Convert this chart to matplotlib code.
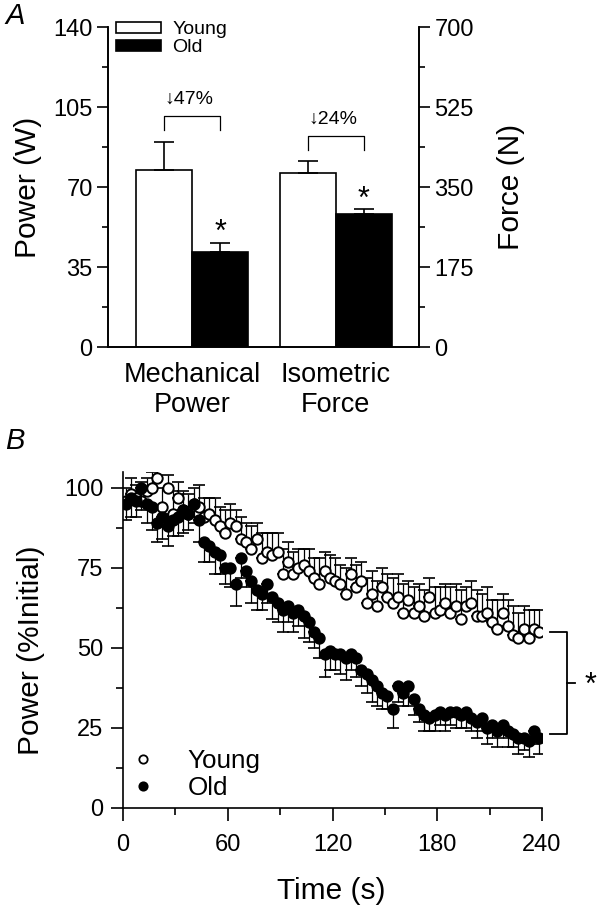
import numpy as np
import matplotlib
matplotlib.use("Agg")
import matplotlib.pyplot as plt
from matplotlib.ticker import MultipleLocator
from matplotlib.lines import Line2D

plt.rcParams['font.family'] = ['Liberation Sans', 'DejaVu Sans']

# ---- Panel A data ----
groups = ['Mechanical\nPower', 'Isometric\nForce']
power_young, power_young_err = 77.4, 12.3
power_old, power_old_err = 41.6, 3.9
force_young, force_young_err = 380.6, 26.0
force_old, force_old_err = 291.0, 11.0
drops = ['47%', '24%']

# ---- Panel B data ----
time_s = np.arange(1.5, 240, 3)
young = [96, 98, 97, 96, 99, 100, 103, 94, 100, 92,
         97, 93, 92, 95, 94, 91, 92, 90, 88, 86,
         89, 88, 84, 83, 81, 84, 78, 80, 79, 80,
         73, 77, 73, 75, 76, 74, 72, 70, 74, 72,
         71, 70, 67, 73, 69, 71, 64, 67, 63, 69,
         66, 64, 66, 61, 65, 61, 63, 60, 66, 61,
         62, 64, 61, 63, 59, 63, 64, 60, 60, 61,
         58, 56, 61, 57, 54, 53, 56, 53, 56, 55]
young_err = [4, 5, 4, 6, 4, 5, 3, 6, 4, 7,
             5, 6, 6, 5, 7, 6, 5, 7, 6, 7,
             6, 5, 7, 6, 7, 5, 8, 6, 7, 6,
             8, 6, 7, 6, 5, 7, 6, 8, 6, 7,
             7, 6, 8, 5, 7, 6, 8, 7, 8, 6,
             7, 8, 7, 9, 6, 8, 7, 8, 6, 8,
             7, 6, 8, 7, 9, 6, 7, 8, 7, 8,
             7, 9, 6, 8, 9, 8, 7, 9, 6, 7]
old = [95, 97, 96, 100, 95, 94, 89, 91, 88, 90,
       91, 93, 92, 95, 90, 83, 82, 80, 79, 75,
       75, 70, 78, 74, 71, 68, 67, 70, 66, 64,
       62, 63, 61, 62, 60, 58, 55, 53, 48, 49,
       48, 48, 47, 48, 47, 43, 42, 40, 38, 36,
       35, 31, 38, 36, 38, 34, 31, 29, 28, 29,
       30, 29, 30, 30, 29, 30, 28, 27, 28, 25,
       26, 24, 26, 24, 23, 22, 22, 21, 24, 22]
old_err = [5, 6, 5, 7, 6, 7, 6, 7, 6, 5,
           6, 7, 5, 6, 7, 6, 5, 7, 6, 5,
           6, 7, 6, 5, 7, 6, 5, 6, 7, 6,
           7, 5, 6, 5, 7, 6, 5, 6, 7, 6,
           5, 6, 7, 5, 6, 5, 6, 7, 6, 5,
           4, 6, 5, 4, 6, 5, 4, 5, 4, 5,
           4, 5, 4, 5, 4, 5, 4, 5, 4, 5,
           4, 5, 4, 5, 4, 5, 4, 5, 4, 5]

fig = plt.figure(figsize=(6, 9.09), dpi=100)
W, H = 600, 909

# ================= Panel A =================
axA = fig.add_axes([108 / W, 1 - 347 / H, (419 - 108) / W, (347 - 27) / H])
axF = axA.twinx()
bw = 0.39
x = np.array([1, 2])

axA.bar(x[0] - bw / 2, power_young, bw, color='white', edgecolor='black', lw=1.2,
        yerr=[[0], [power_young_err]], capsize=7, error_kw=dict(lw=1.2, capthick=1.2))
axA.bar(x[0] + bw / 2, power_old, bw, color='black', edgecolor='black', lw=1.2,
        yerr=[[0], [power_old_err]], capsize=7, error_kw=dict(lw=1.2, capthick=1.2))
axF.bar(x[1] - bw / 2, force_young, bw, color='white', edgecolor='black', lw=1.2,
        yerr=[[0], [force_young_err]], capsize=7, error_kw=dict(lw=1.2, capthick=1.2))
axF.bar(x[1] + bw / 2, force_old, bw, color='black', edgecolor='black', lw=1.2,
        yerr=[[0], [force_old_err]], capsize=7, error_kw=dict(lw=1.2, capthick=1.2))

axA.set_xlim(0.417, 2.577)
axA.set_ylim(0, 140)
axF.set_ylim(0, 700)
axA.yaxis.set_major_locator(MultipleLocator(35))
axA.yaxis.set_minor_locator(MultipleLocator(17.5))
axF.yaxis.set_major_locator(MultipleLocator(175))
axF.yaxis.set_minor_locator(MultipleLocator(87.5))
axA.set_xticks(x)
axA.set_xticklabels(groups, fontsize=19.5)
axA.tick_params(axis='x', length=0, pad=11)
for ax in (axA, axF):
    ax.tick_params(axis='y', which='major', direction='out', length=8, width=1.2, labelsize=17, pad=3)
    ax.tick_params(axis='y', which='minor', direction='out', length=4.5, width=1.2)
    ax.spines['top'].set_visible(False)
    for s in ax.spines.values():
        s.set_linewidth(1.2)

axA.set_ylabel('Power (W)', fontsize=21.5)
axA.yaxis.set_label_coords(-0.212, 0.5)
axF.set_ylabel('Force (N)', fontsize=21.5, rotation=90)
axF.yaxis.set_label_coords(1.251, 0.5)

# brackets with percentage drop
brackets = [(95, 101, 108.5), (86, 92.3, 99.7)]
for i, (lo, hi, ty) in enumerate(brackets):
    axA.plot([x[i] - bw / 2, x[i] - bw / 2, x[i] + bw / 2, x[i] + bw / 2],
             [lo, hi, hi, lo], color='black', lw=0.9)
    axA.text(x[i] - 0.02, ty, '\u2193' + drops[i], ha='center', va='center', fontsize=14)
axA.text(x[0] + bw / 2, 50, '*', ha='center', va='center', fontsize=22)
axA.text(x[1] + bw / 2, 64.5, '*', ha='center', va='center', fontsize=22)

leg = axA.legend(handles=[plt.Rectangle((0, 0), 1, 1, fc='white', ec='black', lw=1.2),
                          plt.Rectangle((0, 0), 1, 1, fc='black', ec='black', lw=1.2)],
                 labels=['Young', 'Old'], loc='upper left', bbox_to_anchor=(0.026, 1.018),
                 frameon=False, fontsize=14, handlelength=2.3, handleheight=0.5,
                 handletextpad=0.6, labelspacing=0.05, borderpad=0, borderaxespad=0)

fig.text(5 / W, 1 - 2 / H, 'A', ha='left', va='top', fontsize=21, style='italic')

# ================= Panel B =================
axB = fig.add_axes([123 / W, 1 - 808 / H, (542 - 123) / W, (808 - 472) / H])
zeros = np.zeros(len(time_s))
axB.errorbar(time_s, young, yerr=[zeros, young_err], fmt='none', ecolor='black',
             elinewidth=0.9, capsize=4, capthick=1.2)
axB.plot(time_s, young, 'o', mfc='white', mec='black', mew=1.4, ms=7.5, ls='none')
axB.errorbar(time_s, old, yerr=[old_err, zeros], fmt='none', ecolor='black',
             elinewidth=0.9, capsize=4, capthick=1.2)
axB.plot(time_s, old, 'o', mfc='black', mec='black', mew=1.4, ms=7.5, ls='none')

axB.set_xlim(0, 240)
axB.set_ylim(0, 105)
axB.xaxis.set_major_locator(MultipleLocator(60))
axB.xaxis.set_minor_locator(MultipleLocator(30))
axB.yaxis.set_major_locator(MultipleLocator(25))
axB.yaxis.set_minor_locator(MultipleLocator(12.5))
axB.tick_params(which='major', direction='out', length=9, width=1.2, labelsize=17, pad=5)
axB.tick_params(axis='x', which='major', pad=10)
axB.tick_params(which='minor', direction='out', length=5, width=1.2)
axB.spines['top'].set_visible(False)
axB.spines['right'].set_visible(False)
for s in axB.spines.values():
    s.set_linewidth(1.2)
axB.set_xlabel('Time (s)', fontsize=21.5)
axB.xaxis.set_label_coords(0.497, -0.205)
axB.set_ylabel('Power (%Initial)', fontsize=21.5)
axB.yaxis.set_label_coords(-0.186, 0.47)

# significance bracket
axB.plot([244.6, 254.3, 254.3, 244.6], [55, 55, 23, 23], color='black', lw=1.3, clip_on=False)
axB.plot([254.3, 259], [39, 39], color='black', lw=1.3, clip_on=False)
axB.text(267.5, 38, '*', ha='center', va='center', fontsize=22, clip_on=False)

legB = axB.legend(handles=[Line2D([], [], marker='o', ls='none', mfc='white', mec='black', mew=1.3, ms=6),
                           Line2D([], [], marker='o', ls='none', mfc='black', mec='black', mew=1.3, ms=6)],
                  labels=['Young', 'Old'], loc='lower left', bbox_to_anchor=(0.017, 0.025),
                  frameon=False, fontsize=18.7, handlelength=1.0, handletextpad=1.2,
                  labelspacing=0.1, borderpad=0, borderaxespad=0)

fig.text(5 / W, 1 - 427 / H, 'B', ha='left', va='top', fontsize=21, style='italic')

fig.savefig('out.png', dpi=100)
